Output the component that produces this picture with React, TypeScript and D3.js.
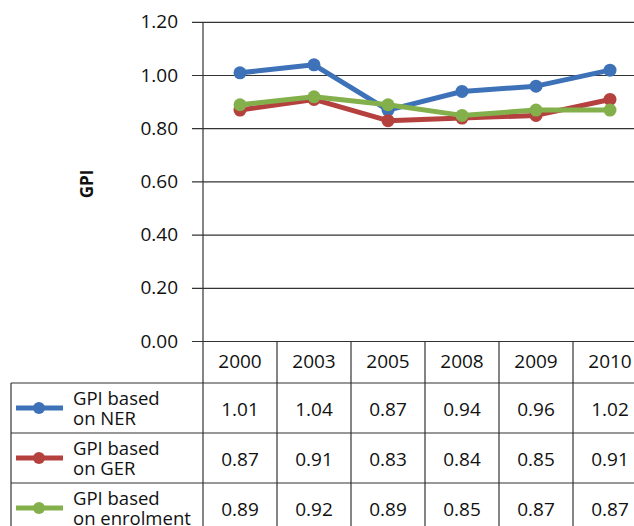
import React from "react";
import * as d3 from "d3";

const years = ["2000", "2003", "2005", "2008", "2009", "2010"];
const gpiNER = [1.01, 1.04, 0.87, 0.94, 0.96, 1.02];
const gpiGER = [0.87, 0.91, 0.83, 0.84, 0.85, 0.91];
const gpiEnrol = [0.89, 0.92, 0.89, 0.85, 0.87, 0.87];
const yTicks = [0, 0.2, 0.4, 0.6, 0.8, 1.0, 1.2];

const seriesList = [
  { name1: "GPI based", name2: "on NER", values: gpiNER, color: "#3e72b8" },
  { name1: "GPI based", name2: "on GER", values: gpiGER, color: "#b5413f" },
  { name1: "GPI based", name2: "on enrolment", values: gpiEnrol, color: "#84b04c" },
];

const W = 634;
const H = 526;
const FONT = "'Open Sans', sans-serif";

export default function App() {
  const plotLeft = 203;
  const colW = 74;
  const x = d3
    .scaleBand<string>()
    .domain(years)
    .range([plotLeft, plotLeft + colW * years.length]);
  const y = d3.scaleLinear().domain([0, 1.2]).range([341.5, 22.3]);
  const cx = (yr: string) => (x(yr) as number) + x.bandwidth() / 2;

  const line = d3
    .line<number>()
    .x((_, i) => cx(years[i]))
    .y((d) => y(d));

  const headerTop = y(0);
  const headerBottom = 383;
  const rowH = 50;
  const legendLeft = 11;
  const gridColor = "#333";

  return (
    <svg
      width={W}
      height={H}
      style={{ position: "absolute", left: 0, top: 0, background: "#fff" }}
      fontFamily={FONT}
    >
      <rect width={W} height={H} fill="#fff" />
      {yTicks.map((t) => (
        <g key={t}>
          <line x1={192} x2={W} y1={y(t)} y2={y(t)} stroke={gridColor} strokeWidth={1.2} />
          <text
            x={178}
            y={y(t) + 1}
            textAnchor="end"
            dominantBaseline="middle"
            fontSize={19}
            fill="#111"
          >
            {t.toFixed(2)}
          </text>
        </g>
      ))}
      <line x1={plotLeft} x2={plotLeft} y1={y(1.2)} y2={H} stroke={gridColor} strokeWidth={1.2} />
      <text
        transform={`translate(93,184) rotate(-90)`}
        textAnchor="middle"
        fontSize={17}
        fontWeight="bold"
        fill="#111"
      >
        GPI
      </text>

      {years.map((yr) => (
        <line
          key={"v" + yr}
          x1={(x(yr) as number) + colW}
          x2={(x(yr) as number) + colW}
          y1={headerTop}
          y2={H}
          stroke={gridColor}
          strokeWidth={1.2}
        />
      ))}
      <line x1={legendLeft} x2={legendLeft} y1={headerBottom} y2={H} stroke={gridColor} strokeWidth={1.2} />
      {[0, 1, 2].map((r) => (
        <line
          key={"h" + r}
          x1={legendLeft}
          x2={W}
          y1={headerBottom + r * rowH}
          y2={headerBottom + r * rowH}
          stroke={gridColor}
          strokeWidth={1.2}
        />
      ))}
      {years.map((yr) => (
        <text
          key={"hd" + yr}
          x={cx(yr)}
          y={(headerTop + headerBottom) / 2 + 1}
          textAnchor="middle"
          dominantBaseline="middle"
          fontSize={19}
          fill="#111"
        >
          {yr}
        </text>
      ))}
      {seriesList.map((s, r) => {
        const rowMid = headerBottom + r * rowH + rowH / 2;
        return (
          <g key={"row" + r}>
            <line x1={16} x2={63} y1={rowMid} y2={rowMid} stroke={s.color} strokeWidth={5} />
            <circle cx={39} cy={rowMid} r={6} fill={s.color} />
            <text fontSize={18.5} fill="#111">
              <tspan x={73} y={rowMid - 3}>{s.name1}</tspan>
              <tspan x={73} y={rowMid + 17}>{s.name2}</tspan>
            </text>
            {s.values.map((v, i) => (
              <text
                key={i}
                x={cx(years[i])}
                y={rowMid + 3}
                textAnchor="middle"
                dominantBaseline="middle"
                fontSize={19}
                fill="#111"
              >
                {v.toFixed(2)}
              </text>
            ))}
          </g>
        );
      })}

      {seriesList.map((s, r) => (
        <g key={"s" + r}>
          <path d={line(s.values) || ""} fill="none" stroke={s.color} strokeWidth={5} strokeLinejoin="round" />
          {s.values.map((v, i) => (
            <circle key={i} cx={cx(years[i])} cy={y(v)} r={6.5} fill={s.color} />
          ))}
        </g>
      ))}
    </svg>
  );
}
